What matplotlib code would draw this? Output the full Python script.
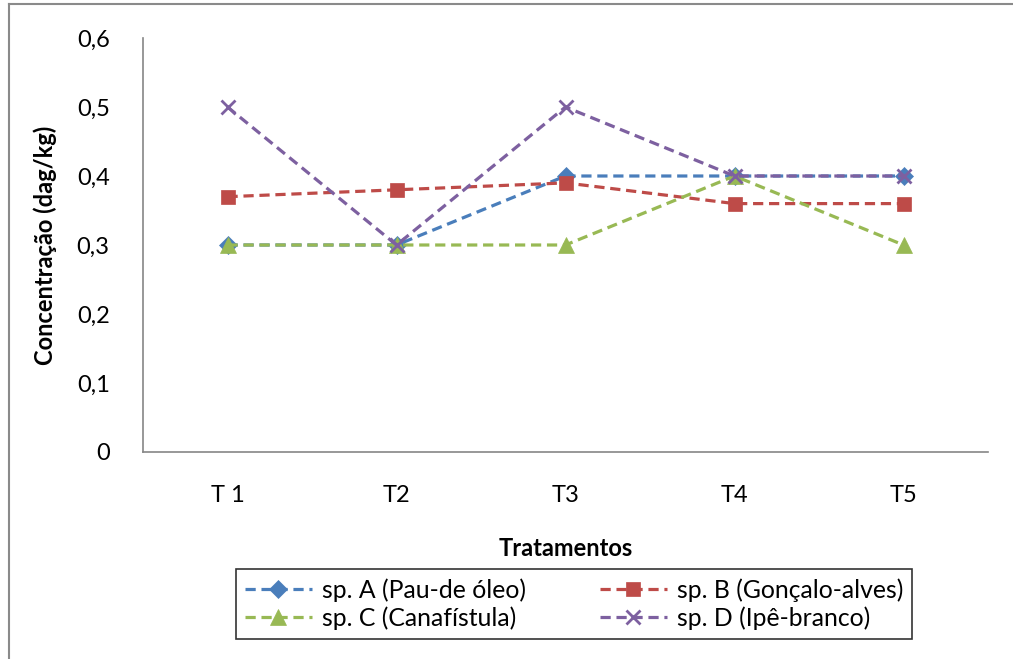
import matplotlib.pyplot as plt
from matplotlib.lines import Line2D

plt.rcParams['font.family'] = ['Lato', 'DejaVu Sans']

# ============ Data ============
tratamentos = ['T 1', 'T2', 'T3', 'T4', 'T5']
sp_a = [0.30, 0.30, 0.40, 0.40, 0.40]
sp_b = [0.37, 0.38, 0.39, 0.36, 0.36]
sp_c = [0.30, 0.30, 0.30, 0.40, 0.30]
sp_d = [0.50, 0.30, 0.50, 0.40, 0.40]

series = [
    ('sp. A (Pau-de óleo)', sp_a, '#4A7EBB', 'D', 9),
    ('sp. B (Gonçalo-alves)', sp_b, '#BE4B48', 's', 10),
    ('sp. C (Canafístula)', sp_c, '#98B954', '^', 11),
    ('sp. D (Ipê-branco)', sp_d, '#7D60A0', 'x', 10),
]

fig = plt.figure(figsize=(10.13, 6.59), dpi=100)
ax = fig.add_axes([143 / 1013, 1 - 452 / 659, 845 / 1013, 414 / 659])

x = range(len(tratamentos))
handles = []
for name, vals, col, mk, ms in series:
    h, = ax.plot(x, vals, linestyle=(0, (3.2, 1.8)), color=col, linewidth=2.3,
                 marker=mk, markersize=ms, markeredgewidth=2 if mk == 'x' else 0.5,
                 markeredgecolor=col, markerfacecolor=col, label=name, clip_on=False)
    handles.append(h)

ax.set_xlim(-0.5, 4.5)
ax.set_ylim(0, 0.6)
ax.set_xticks(list(x))
ax.set_xticklabels(tratamentos)
ax.set_yticks([0, 0.1, 0.2, 0.3, 0.4, 0.5, 0.6])
ax.set_yticklabels(['0', '0,1', '0,2', '0,3', '0,4', '0,5', '0,6'])
ax.tick_params(length=0, labelsize=17)
ax.tick_params(axis='y', pad=24)
ax.tick_params(axis='x', pad=24)

for side in ['top', 'right']:
    ax.spines[side].set_visible(False)
for side in ['left', 'bottom']:
    ax.spines[side].set_color('#868686')
    ax.spines[side].set_linewidth(1.2)

ax.set_ylabel('Concentração (dag/kg)', fontsize=17, fontweight='bold', labelpad=14)
ax.set_xlabel('Tratamentos', fontsize=17, fontweight='bold', labelpad=22)

# row-wise legend order: A B / C D
order = [0, 2, 1, 3]
leg = fig.legend([handles[i] for i in order], [series[i][0] for i in order],
                 loc='center', bbox_to_anchor=(574 / 1013, 1 - 604 / 659), ncol=2,
                 fontsize=17.8, frameon=True, fancybox=False, handlelength=2.7,
                 columnspacing=3.0, borderpad=0.35, labelspacing=0.2, handletextpad=0.4)
leg.get_frame().set_edgecolor('black')
leg.get_frame().set_linewidth(1.2)

# outer chart frame (left and top edges visible)
fig.add_artist(Line2D([9 / 1013, 9 / 1013], [0, 1 - 4 / 659], transform=fig.transFigure,
                      color='#8a8a8a', linewidth=1.5))
fig.add_artist(Line2D([9 / 1013, 1], [1 - 4 / 659, 1 - 4 / 659], transform=fig.transFigure,
                      color='#8a8a8a', linewidth=1.5))

fig.savefig('out.png', dpi=100)
